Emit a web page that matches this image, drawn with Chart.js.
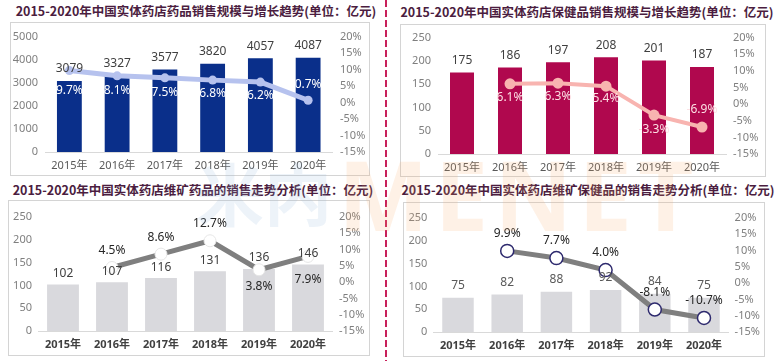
<!DOCTYPE html>
<html><head><meta charset="utf-8">
<script src="https://cdn.jsdelivr.net/npm/chart.js@4.4.0/dist/chart.umd.min.js"></script>
<style>
html,body{margin:0;padding:0;background:#fff;}
body{width:779px;height:361px;position:relative;overflow:hidden;font-family:"Noto Sans","Noto Sans CJK SC",sans-serif;}
.t{position:absolute;font-family:"Noto Sans CJK SC",sans-serif;font-weight:bold;font-size:12.5px;color:#4b1d40;white-space:nowrap;line-height:1;transform:translate(-50%,-50%);}
.box{position:absolute;border:1px solid #d4d4d4;box-sizing:border-box;}
canvas{position:absolute;}
.dash{position:absolute;left:385px;top:0;width:2px;height:361px;background:repeating-linear-gradient(to bottom,#c8205a 0 7px,transparent 7px 10px);}
.wm{position:absolute;white-space:nowrap;line-height:1;pointer-events:none;font-weight:bold;}
</style></head>
<body>
<div class="dash"></div>
<div class="t" style="left:196px;top:11px">2015-2020年中国实体药店药品销售规模与增长趋势(单位：亿元)</div>
<div class="t" style="left:587px;top:12px">2015-2020年中国实体药店保健品销售规模与增长趋势(单位：亿元)</div>
<div class="t" style="left:193px;top:190px">2015-2020年中国实体药店维矿药品的销售走势分析(单位：亿元)</div>
<div class="t" style="left:588px;top:190px">2015-2020年中国实体药店维矿保健品的销售走势分析(单位：亿元)</div>
<div class="box" style="left:10px;top:22px;width:360px;height:154px"></div>
<div class="box" style="left:400px;top:24px;width:366px;height:153px"></div>
<div class="box" style="left:8px;top:200px;width:362px;height:156px"></div>
<div class="box" style="left:403px;top:202px;width:362px;height:155px"></div>
<canvas id="c1" width="360" height="154" style="left:10px;top:22px"></canvas>
<canvas id="c2" width="366" height="153" style="left:400px;top:24px"></canvas>
<canvas id="c3" width="362" height="156" style="left:8px;top:200px"></canvas>
<canvas id="c4" width="362" height="155" style="left:403px;top:202px"></canvas>
<div class="wm" style="left:196px;top:158px;font-family:'Noto Sans CJK SC';font-size:68px;color:rgba(140,180,215,0.16)">米内</div>
<div class="wm" style="left:338px;top:146px;font-family:'Noto Sans';font-size:96px;color:rgba(250,170,100,0.16);letter-spacing:6px">MENET</div>
<script>
const years = ['2015年','2016年','2017年','2018年','2019年','2020年'];
const drugSales = [3079,3327,3577,3820,4057,4087];
const drugGrowth = [9.7,8.1,7.5,6.8,6.2,0.7];
const healthSales = [175,186,197,208,201,187];
const healthGrowth = [null,6.1,6.3,5.4,-3.3,-6.9];
const vitDrugSales = [102,107,116,131,136,146];
const vitDrugGrowth = [null,4.5,8.6,12.7,3.8,7.9];
const vitHealthSales = [75,82,88,92,84,75];
const vitHealthGrowth = [null,9.9,7.7,4.0,-8.1,-10.7];
const drugAxis = [0,5000,1000];
const smallAxis = [0,250,50];
const pctAxis = [-15,20,5];

const FONT = '"Noto Sans","Noto Sans CJK SC",sans-serif';

const labelPlugin = {
  id:'vlabels',
  afterDatasetsDraw(chart, args, opts){
    const ctx = chart.ctx;
    ctx.save();
    ctx.textAlign='center'; ctx.textBaseline='middle';
    chart.data.datasets.forEach((ds,i)=>{
      const meta = chart.getDatasetMeta(i);
      const o = ds.type==='bar' ? opts.bar : opts.line;
      ctx.fillStyle = o.color;
      ctx.font = o.font;
      meta.data.forEach((el,j)=>{
        const v = ds.data[j];
        if(v===null||v===undefined) return;
        const dy = Array.isArray(o.dy)? o.dy[j] : o.dy;
        const txt = ds.type==='bar' ? String(v) : v.toFixed(1)+'%';
        ctx.fillText(txt, el.x, el.y+dy);
      });
    });
    ctx.restore();
  }
};

function build(id, p){
  const [lmin,lmax,lstep] = p.left;
  return new Chart(document.getElementById(id),{
    data:{labels:years,datasets:[
      {type:'line',data:p.growth,yAxisID:'y1',order:0,borderColor:p.lineColor,borderWidth:p.lineWidth,
       pointRadius:p.pointRadius,pointBackgroundColor:p.pointBg,pointBorderColor:p.pointBorder,pointBorderWidth:p.pointBorderWidth,tension:0},
      {type:'bar',data:p.sales,yAxisID:'y',order:1,backgroundColor:p.barColor,categoryPercentage:1,barPercentage:p.barPct}
    ]},
    options:{
      responsive:false,animation:false,devicePixelRatio:1,
      layout:{padding:{top:p.padTop,left:0,right:0,bottom:0}},
      plugins:{legend:{display:false},tooltip:{enabled:false},
        vlabels:{bar:{color:p.barLblColor,font:'12px '+FONT,dy:p.barDy},line:{color:p.lineLblColor,font:'12px '+FONT,dy:p.lineDy}}},
      scales:{
        x:{offset:true,grid:{display:false,drawTicks:false},border:{display:true,color:'#d9d9d9',width:1},
           ticks:{color:p.xColor,font:{family:FONT,size:11,weight:p.xBold?'bold':'normal'},padding:p.xPad,maxRotation:0},
           afterFit(s){s.height=p.xH;}},
        y:{position:'left',min:lmin,max:lmax,grid:{display:false,drawTicks:false},border:{display:false},
           ticks:{stepSize:lstep,color:'#7f7f7f',font:{family:FONT,size:11},padding:p.lPad,callback:v=>String(v)},
           afterFit(s){s.width=p.lW;}},
        y1:{position:'right',min:pctAxis[0],max:pctAxis[1],grid:{display:false,drawTicks:false},border:{display:false},
           ticks:{stepSize:pctAxis[2],color:'#7f7f7f',font:{family:FONT,size:11},padding:p.rPad,callback:v=>v+'%'},
           afterFit(s){s.width=p.rW;}}
      }
    },
    plugins:[labelPlugin]
  });
}

build('c1',{left:drugAxis,sales:drugSales,growth:drugGrowth,barColor:'#0a2f8a',barPct:0.52,
  lineColor:'#b6c2ee',lineWidth:5,pointRadius:4.5,pointBg:'#b6c2ee',pointBorder:'#b6c2ee',pointBorderWidth:0,
  barLblColor:'#404040',barDy:-12,lineLblColor:'#ffffff',lineDy:[20,15,15,13,13,-16],
  padTop:7,lW:35.5,rW:38,xH:24,lPad:7.5,rPad:8,xPad:7,xColor:'#595959',xBold:false});
build('c2',{left:smallAxis,sales:healthSales,growth:healthGrowth,barColor:'#b0084e',barPct:0.5,
  lineColor:'#f8b4b0',lineWidth:4,pointRadius:5.5,pointBg:'#f8b4b0',pointBorder:'#f8b4b0',pointBorderWidth:0,
  barLblColor:'#404040',barDy:-12,lineLblColor:'#fde0e4',lineDy:[0,14,13,12,14,-17],
  padTop:8,lW:38,rW:40,xH:23,lPad:7,rPad:7,xPad:7,xColor:'#595959',xBold:false});
build('c3',{left:smallAxis,sales:vitDrugSales,growth:vitDrugGrowth,barColor:'#d9d9dd',barPct:0.65,
  lineColor:'#7f7f7f',lineWidth:5,pointRadius:6,pointBg:'#ffffff',pointBorder:'#e6e6e6',pointBorderWidth:1,
  barLblColor:'#404040',barDy:-11,lineLblColor:'#262626',lineDy:[0,-16.5,-16.5,-17,17,23.5],
  padTop:17,lW:30.5,rW:37.5,xH:25,lPad:6.5,rPad:6.5,xPad:7,xColor:'#404040',xBold:true});
build('c4',{left:smallAxis,sales:vitHealthSales,growth:vitHealthGrowth,barColor:'#d9d9dd',barPct:0.64,
  lineColor:'#7f7f7f',lineWidth:5,pointRadius:6.5,pointBg:'#ffffff',pointBorder:'#2e2a6e',pointBorderWidth:1.5,
  barLblColor:'#595959',barDy:-12,lineLblColor:'#262626',lineDy:[0,-17,-17,-17.5,-16.5,-17],
  padTop:16,lW:30.4,rW:36.4,xH:25,lPad:6,rPad:6,xPad:7,xColor:'#404040',xBold:true});
</script>
</body></html>
